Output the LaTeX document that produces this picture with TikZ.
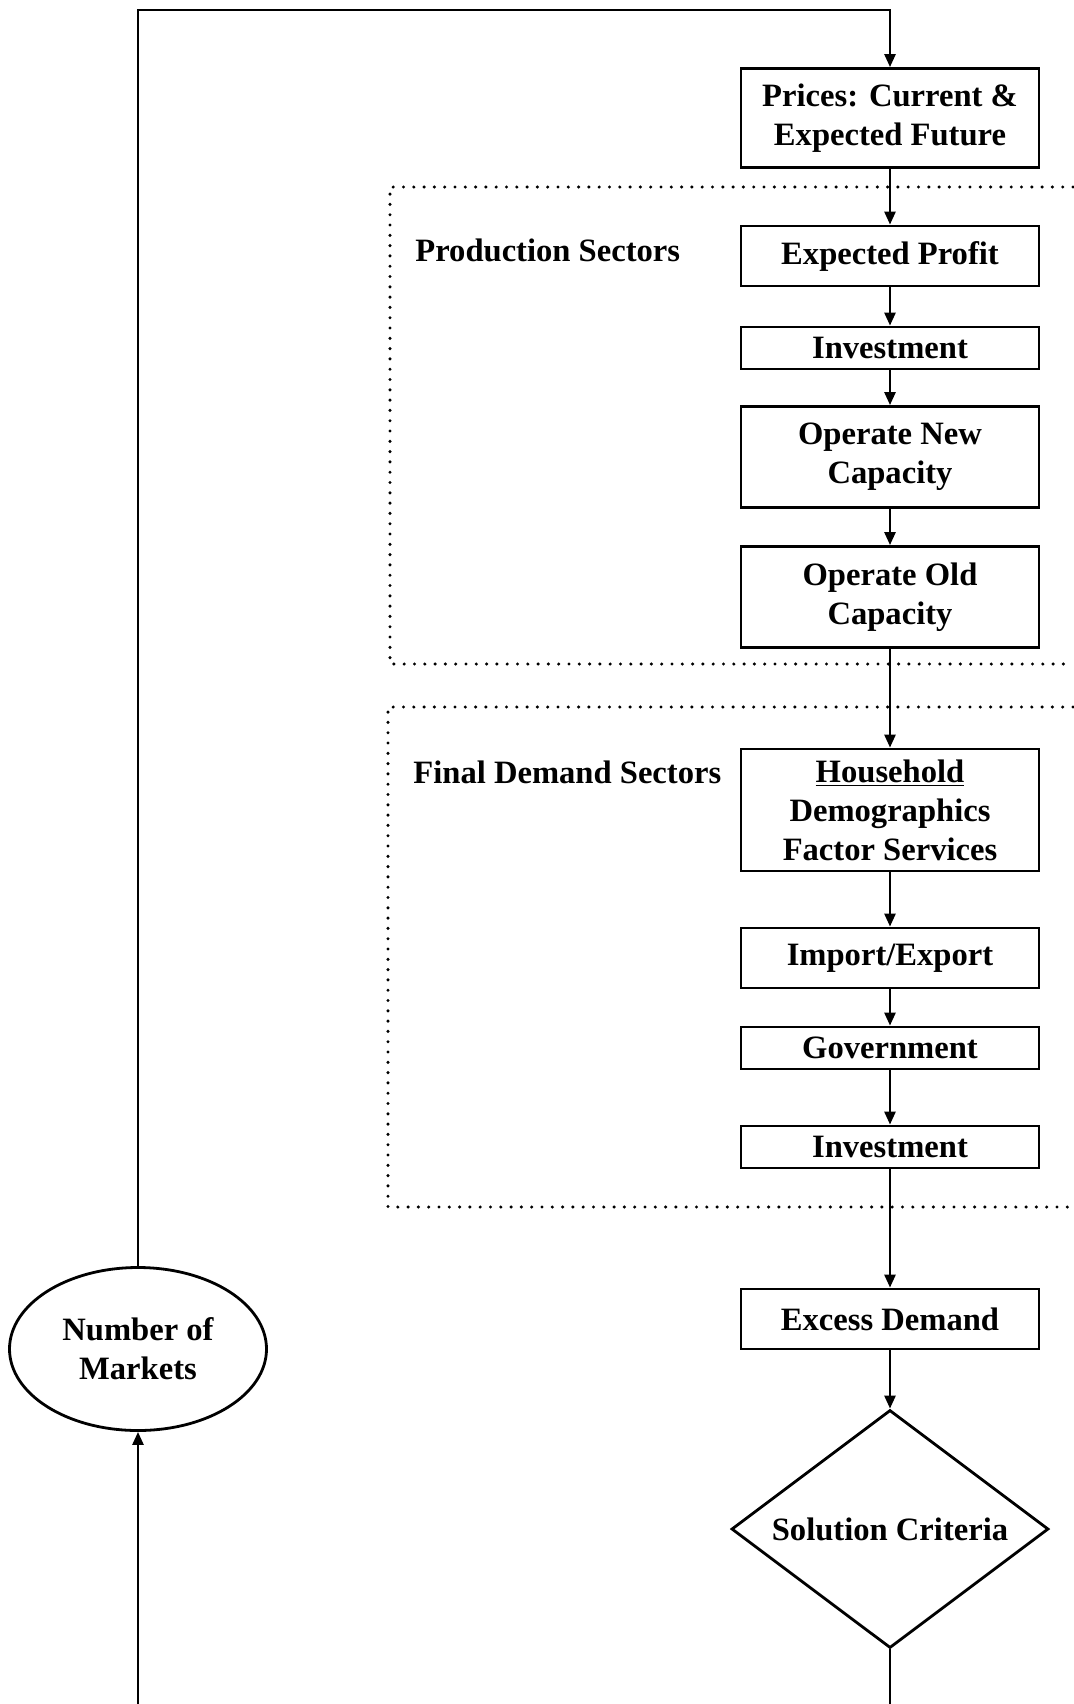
\documentclass[tikz,border=0pt]{standalone}
\usepackage{fontspec}
\setmainfont{Liberation Serif}
\usepackage{tikz}
\usetikzlibrary{shapes.geometric, arrows.meta}

\begin{document}
\begin{tikzpicture}[x=0.5pt, y=-0.5pt,
  stagebox/.style={draw, line width=1.4pt, minimum width=149pt, inner sep=0pt, align=center, font=\bfseries\fontsize{16.3}{19.5}\selectfont},
  flow/.style={line width=1.3pt, -{Triangle[length=6.5pt, width=5.5pt]}},
  link/.style={line width=1.3pt},
  sector/.style={line width=1.7pt, line cap=round, dash pattern=on 0pt off 5.15pt},
  sectorlabel/.style={anchor=west, inner sep=0pt, font=\bfseries\fontsize{16.3}{19.5}\selectfont}]
  \useasboundingbox (0,0) rectangle (1073,1704);

  % Sector frames (open to the right)
  \draw[sector] (1073,187) -- (390,187) -- (390,664) -- (1073,664);
  \draw[sector] (1073,707) -- (388,707) -- (388,1207) -- (1073,1207);
  \node[sectorlabel] (prodlabel) at (415,250) {Production Sectors};
  \node[sectorlabel] (finallabel) at (413,772) {Final Demand Sectors};

  % Main column
  \node[stagebox, minimum height=49.5pt] (prices) at (890,118) {Prices: Current \&\\Expected Future};
  \node[stagebox, minimum height=30pt] (profit) at (890,256) {Expected Profit};
  \node[stagebox, minimum height=21pt] (prodinvest) at (890,348) {Investment};
  \node[stagebox, minimum height=50.5pt] (opnew) at (890,457) {Operate New\\Capacity};
  \node[stagebox, minimum height=50.5pt] (opold) at (890,597) {Operate Old\\Capacity};
  \node[stagebox, minimum height=61pt] (household) at (890,810) {\underline{Household}\\Demographics\\Factor Services};
  \node[stagebox, minimum height=30pt] (trade) at (890,958) {Import/Export};
  \node[stagebox, minimum height=21pt] (govt) at (890,1048) {Government};
  \node[stagebox, minimum height=21pt] (finalinvest) at (890,1147) {Investment};
  \node[stagebox, minimum height=30pt] (excess) at (890,1319) {Excess Demand};
  \node[draw, diamond, aspect=1.33, line width=1.4pt, inner sep=0pt, minimum width=158.5pt, minimum height=119pt, font=\bfseries\fontsize{16.3}{19.5}\selectfont] (criteria) at (890,1529) {Solution Criteria};

  % Loop back
  \node[draw, ellipse, line width=1.4pt, inner sep=0pt, minimum width=128.5pt, minimum height=81.5pt, align=center, font=\bfseries\fontsize{16.3}{19.5}\selectfont] (markets) at (138,1349) {Number of\\Markets};
  \coordinate (topturn) at (890,10);
  \coordinate (critout) at (890,1704);
  \coordinate (marketsin) at (138,1704);

  % Connectors
  \foreach \a/\b in {prices/profit, profit/prodinvest, prodinvest/opnew, opnew/opold, opold/household, household/trade, trade/govt, govt/finalinvest, finalinvest/excess, excess/criteria}
    \draw[flow] (\a) -- (\b);
  \draw[flow] (markets.north) |- (topturn) -- (prices.north);
  \draw[link] (criteria.south) -- (critout);
  \draw[flow] (marketsin) -- (markets.south);
\end{tikzpicture}
\end{document}
